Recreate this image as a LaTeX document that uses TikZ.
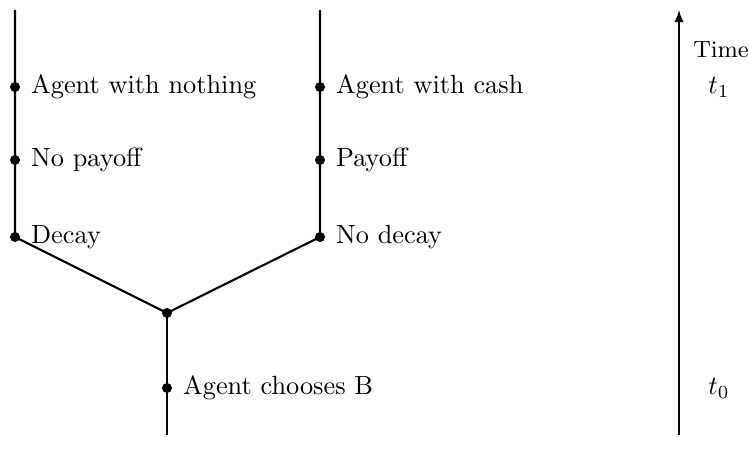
\documentclass[tikz,border=0pt]{standalone}
\begin{document}
\begin{tikzpicture}[x=0.38pt,y=-0.38pt,
  dot/.style={circle,fill=black,inner sep=0pt,minimum size=3.8pt},
  branch/.style={thick},
  lbl/.style={anchor=west,inner sep=3.33pt,xshift=2.6pt},
  axis/.style={semithick,-latex}]
\useasboundingbox (0,0) rectangle (749,459);
% top ends and bottom end
\coordinate (lt) at (15,10);
\coordinate (rt) at (320,10);
\coordinate (bb) at (167,435);
% dots
\node[dot] (l1) at (15,87) {};
\node[dot] (l2) at (15,160) {};
\node[dot] (l3) at (15,237) {};
\node[dot] (r1) at (320,87) {};
\node[dot] (r2) at (320,160) {};
\node[dot] (r3) at (320,237) {};
\node[dot] (m) at (167,313) {};
\node[dot] (b) at (167,388) {};
% connectors
\draw[branch] (lt) -- (l1.center) -- (l2.center) -- (l3.center) -- (m.center) -- (r3.center) -- (r2.center) -- (r1.center) -- (rt);
\draw[branch] (m.center) -- (b.center) -- (bb);
% labels
\node[lbl] (tl1) at (l1) {Agent with nothing};
\node[lbl] (tl2) at (l2) {No payoff};
\node[lbl] (tl3) at (l3) {Decay};
\node[lbl] (tr1) at (r1) {Agent with cash};
\node[lbl] (tr2) at (r2) {Payoff};
\node[lbl] (tr3) at (r3) {No decay};
\node[lbl] (tb) at (b) {Agent chooses B};
% time axis
\coordinate (ab) at (679,435);
\coordinate (at) at (679,10);
\draw[axis] (ab) -- (at);
\node[font=\small] (time) at (721,50) {Time};
\node (t1) at (719,87) {$t_1$};
\node (t0) at (719,388) {$t_0$};
\end{tikzpicture}
\end{document}
